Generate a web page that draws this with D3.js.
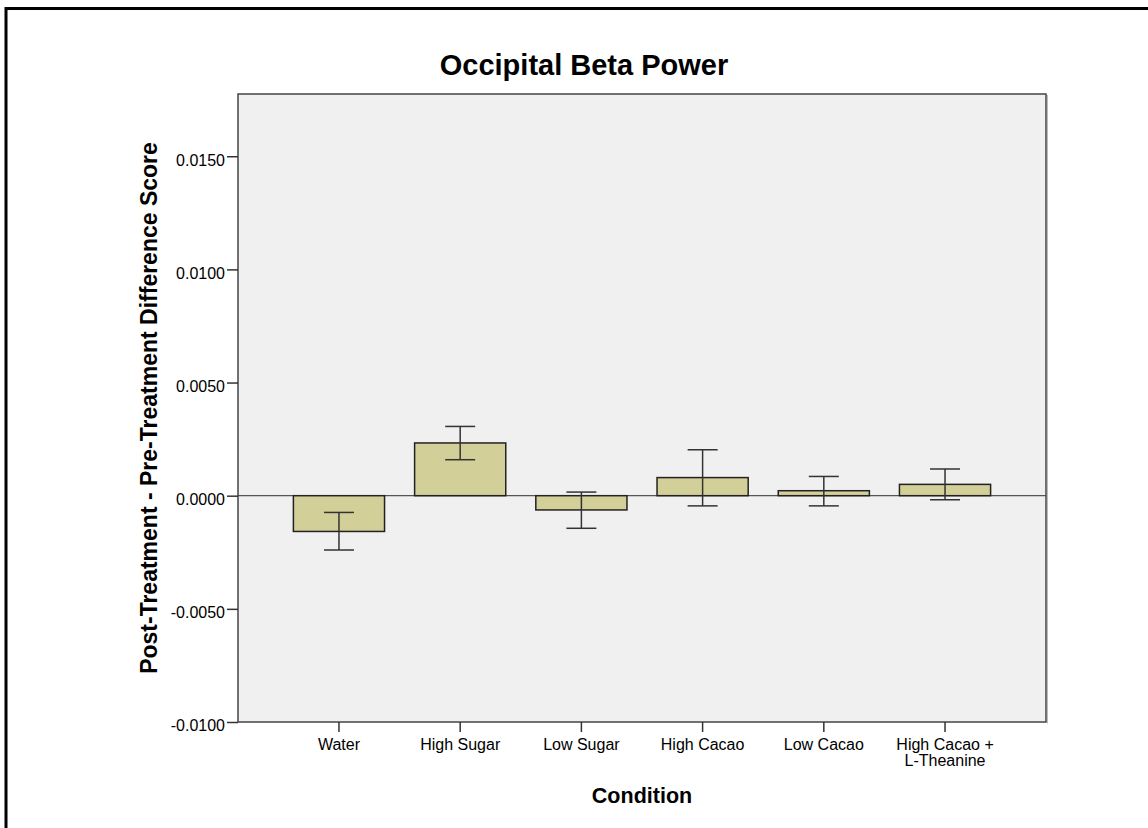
<!DOCTYPE html>
<html lang="en">
  <head>
    <meta charset="UTF-8" />
    <title>Occipital Beta Power</title>
    <script src="https://cdn.jsdelivr.net/npm/d3@7"></script>
    <style>
      body { margin: 0; background: #fff; }
      svg text { font-family: "Liberation Sans", Arial, sans-serif; fill: #000; }
    </style>
  </head>
  <body>
    <svg id="chart" width="1148" height="828"></svg>
    <script>
      // data
      const categories = ["Water", "High Sugar", "Low Sugar", "High Cacao", "Low Cacao", "High Cacao +\nL-Theanine"];
      const means = [-0.00158, 0.00233, -0.00063, 0.0008, 0.00022, 0.0005];
      const errLow = [-0.0024, 0.00159, -0.00144, -0.00045, -0.00045, -0.00018];
      const errHigh = [-0.00074, 0.00306, 0.00016, 0.00203, 0.00085, 0.00118];
      const yTicks = [-0.01, -0.005, 0, 0.005, 0.01, 0.015];

      const svg = d3.select("#chart");
      const pLeft = 238, pRight = 1046, pTop = 94, pBottom = 722;

      // outer frame
      svg.append("rect")
        .attr("x", 6).attr("y", 8.5)
        .attr("width", 1300).attr("height", 1000)
        .style("fill", "none").style("stroke", "#000").style("stroke-width", 3);

      const x = d3.scaleBand()
        .domain(categories)
        .range([pLeft, pRight])
        .paddingInner(0.248)
        .paddingOuter(0.457);

      const y = d3.scaleLinear()
        .domain([-0.01, 0.01775])
        .range([pBottom, pTop]);

      // plot background
      svg.append("rect")
        .attr("x", pLeft).attr("y", pTop)
        .attr("width", pRight - pLeft).attr("height", pBottom - pTop)
        .style("fill", "#f0f0f0");

      // zero line
      svg.append("line")
        .attr("x1", pLeft).attr("x2", pRight)
        .attr("y1", y(0)).attr("y2", y(0))
        .style("stroke", "#555").style("stroke-width", 1.3);

      const rows = categories.map((c, i) => ({ c, m: means[i], lo: errLow[i], hi: errHigh[i] }));

      svg.append("g").selectAll("rect")
        .data(rows)
        .enter()
        .append("rect")
        .attr("x", d => x(d.c))
        .attr("width", x.bandwidth())
        .attr("y", d => y(Math.max(0, d.m)))
        .attr("height", d => Math.abs(y(d.m) - y(0)))
        .style("fill", "#d3cf98")
        .style("stroke", "#222")
        .style("stroke-width", 1.5);

      // error bars
      const eb = svg.append("g").style("stroke", "#333").style("stroke-width", 1.5);
      rows.forEach(d => {
        const cx = x(d.c) + x.bandwidth() / 2;
        eb.append("line").attr("x1", cx).attr("x2", cx).attr("y1", y(d.lo)).attr("y2", y(d.hi));
        [d.lo, d.hi].forEach(v => {
          eb.append("line").attr("x1", cx - 15).attr("x2", cx + 15).attr("y1", y(v)).attr("y2", y(v));
        });
      });

      // plot frame
      svg.append("rect")
        .attr("x", pLeft).attr("y", pTop)
        .attr("width", pRight - pLeft).attr("height", pBottom - pTop)
        .style("fill", "none").style("stroke", "#444").style("stroke-width", 1.5);
      svg.append("line")
        .attr("x1", pRight + 1.5).attr("x2", pRight + 1.5)
        .attr("y1", pTop + 1).attr("y2", pBottom + 1.5)
        .style("stroke", "#bbb").style("stroke-width", 1);

      // y axis
      const yAxis = svg.append("g")
        .attr("transform", `translate(${pLeft},0)`)
        .call(d3.axisLeft(y).tickValues(yTicks).tickSize(11).tickPadding(2).tickFormat(d => d.toFixed(4)));
      yAxis.select(".domain").remove();
      yAxis.selectAll("line").style("stroke", "#333").style("stroke-width", 1.5);
      yAxis.selectAll("text").style("font-size", "16px").attr("dy", "0.55em");

      // x axis
      const xAxis = svg.append("g")
        .attr("transform", `translate(0,${pBottom})`)
        .call(d3.axisBottom(x).tickSize(10).tickFormat(""));
      xAxis.select(".domain").remove();
      xAxis.selectAll("line").style("stroke", "#333").style("stroke-width", 1.5);
      xAxis.selectAll(".tick").each(function (d) {
        const t = d3.select(this).append("text")
          .attr("text-anchor", "middle")
          .style("font-size", "16px");
        d.split("\n").forEach((s, i) => {
          t.append("tspan").attr("x", 0).attr("y", 28 + i * 16).text(s);
        });
      });

      // titles
      svg.append("text")
        .attr("x", 584).attr("y", 75)
        .attr("text-anchor", "middle")
        .style("font-size", "29px").style("font-weight", "bold")
        .text("Occipital Beta Power");

      svg.append("text")
        .attr("x", (pLeft + pRight) / 2).attr("y", 803)
        .attr("text-anchor", "middle")
        .style("font-size", "21.5px").style("font-weight", "bold")
        .text("Condition");

      svg.append("text")
        .attr("transform", `translate(157,${(pTop + pBottom) / 2}) rotate(-90)`)
        .attr("text-anchor", "middle")
        .style("font-size", "23px").style("font-weight", "bold")
        .text("Post-Treatment - Pre-Treatment Difference Score");
    </script>
  </body>
</html>
